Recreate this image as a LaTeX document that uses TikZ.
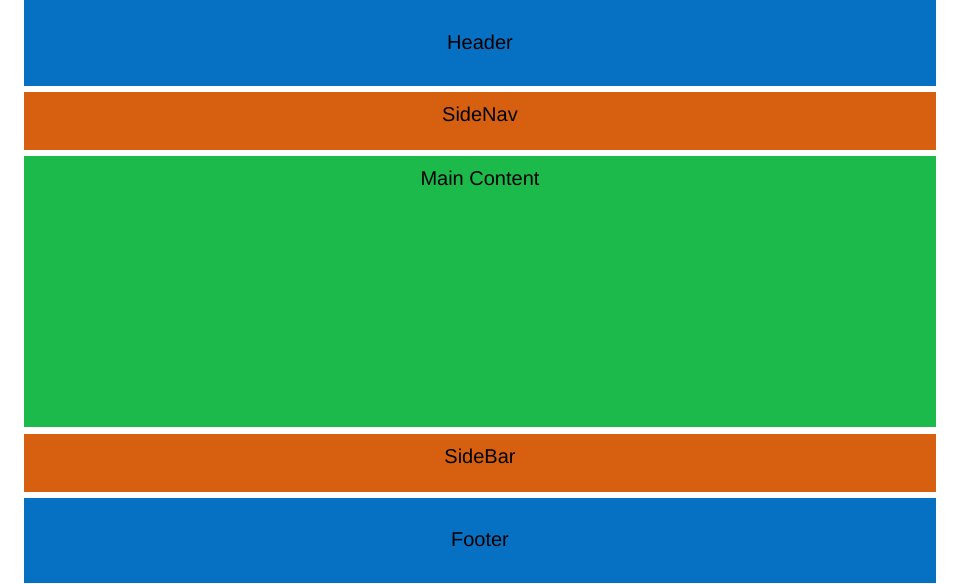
\documentclass[tikz,border=0pt]{standalone}
\usepackage{fontspec}
\setmainfont{Liberation Sans}
\usetikzlibrary{positioning}
\definecolor{headblue}{HTML}{0670C3}
\definecolor{navorange}{HTML}{D65F10}
\definecolor{maingreen}{HTML}{1BBA4B}
\begin{document}
\begin{tikzpicture}[x=1pt, y=-1pt,
  area/.style={fill=#1, draw=none, inner sep=0pt, outer sep=0pt, minimum width=912pt},
  lbl/.style={font=\fontsize{20}{24}\selectfont, text=black, inner sep=0pt}]
\useasboundingbox (0,0) rectangle (960,583);
\node [area=headblue, minimum height=86pt, anchor=north west] (header) at (24,0) {};
\node [area=navorange, minimum height=58pt, below=6pt of header] (sidenav) {};
\node [area=maingreen, minimum height=271pt, below=6pt of sidenav] (main) {};
\node [area=navorange, minimum height=58pt, below=7pt of main] (sidebar) {};
\node [area=headblue, minimum height=85pt, below=6pt of sidebar] (footer) {};
\node [lbl] (headerlbl) at ([yshift=1pt]header.center) {Header};
\node [lbl] (sidenavlbl) at ([yshift=-22pt]sidenav.north) {SideNav};
\node [lbl] (mainlbl) at ([yshift=-22pt]main.north) {Main Content};
\node [lbl] (sidebarlbl) at ([yshift=-22pt]sidebar.north) {SideBar};
\node [lbl] (footerlbl) at ([yshift=1pt]footer.center) {Footer};
\end{tikzpicture}
\end{document}
